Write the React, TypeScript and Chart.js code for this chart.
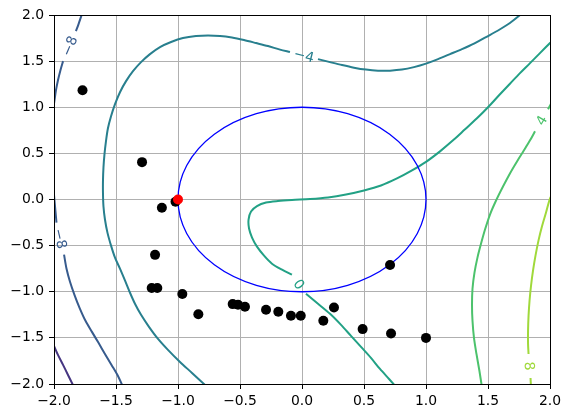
import React, { useEffect, useRef } from 'react';
import { Chart, registerables } from 'chart.js';

Chart.register(...registerables);

type Pt = [number, number];

// axis ticks
const xTicks = [-2, -1.5, -1, -0.5, 0, 0.5, 1, 1.5, 2];
const yTicks = [-2, -1.5, -1, -0.5, 0, 0.5, 1, 1.5, 2];

// contour pieces, split where the inline level label sits
const levelM12: Pt[][] = [
  [[-2.016, -1.533], [-2.0, -1.587], [-1.968, -1.685], [-1.927, -1.793], [-1.887, -1.902], [-1.847, -2.011], [-1.831, -2.054]],
];
const levelM8Upper: Pt[][] = [
  [[-1.748, 2.109], [-1.777, 2.0], [-1.802, 1.902], [-1.823, 1.826]],
  [[-1.927, 1.5], [-1.948, 1.402], [-1.968, 1.293], [-1.984, 1.185], [-1.996, 1.076], [-2.008, 0.967]],
];
const levelM8Lower: Pt[][] = [
  [[-2.004, 0.098], [-1.996, -0.011], [-1.988, -0.13], [-1.98, -0.25]],
  [[-1.919, -0.598], [-1.899, -0.75], [-1.871, -0.891], [-1.835, -1.033], [-1.794, -1.174], [-1.746, -1.315],
   [-1.694, -1.435], [-1.641, -1.554], [-1.589, -1.674], [-1.536, -1.793], [-1.484, -1.913], [-1.44, -2.043]],
];
const levelM4: Pt[][] = [
  [[-0.782, -2.011], [-0.887, -1.88], [-0.984, -1.761], [-1.081, -1.63], [-1.161, -1.511], [-1.234, -1.38],
   [-1.298, -1.25], [-1.347, -1.13], [-1.387, -1.011], [-1.427, -0.88], [-1.468, -0.75], [-1.508, -0.63],
   [-1.54, -0.5], [-1.569, -0.359], [-1.589, -0.217], [-1.601, -0.076], [-1.605, 0.065], [-1.605, 0.207],
   [-1.601, 0.348], [-1.593, 0.489], [-1.581, 0.63], [-1.565, 0.772], [-1.54, 0.902], [-1.508, 1.033],
   [-1.468, 1.163], [-1.419, 1.283], [-1.363, 1.391], [-1.298, 1.489], [-1.226, 1.576], [-1.145, 1.652],
   [-1.056, 1.707], [-0.96, 1.75], [-0.855, 1.772], [-0.758, 1.777], [-0.661, 1.772], [-0.565, 1.755],
   [-0.468, 1.728], [-0.371, 1.696], [-0.274, 1.663], [-0.177, 1.625], [-0.097, 1.598]],
  [[0.129, 1.522], [0.226, 1.489], [0.323, 1.457], [0.419, 1.429], [0.516, 1.408], [0.613, 1.397],
   [0.71, 1.397], [0.806, 1.408], [0.903, 1.435], [1.0, 1.473], [1.097, 1.522], [1.194, 1.576],
   [1.29, 1.63], [1.387, 1.69], [1.484, 1.761], [1.581, 1.832], [1.677, 1.913], [1.758, 2.0], [1.823, 2.076]],
];
const level0: Pt[][] = [
  [[2.048, 1.761], [2.0, 1.696], [1.919, 1.587], [1.839, 1.478], [1.758, 1.37], [1.677, 1.255], [1.589, 1.13],
   [1.5, 1.0], [1.411, 0.88], [1.315, 0.761], [1.218, 0.641], [1.113, 0.522], [1.0, 0.408], [0.887, 0.315],
   [0.766, 0.228], [0.637, 0.152], [0.5, 0.098], [0.355, 0.054], [0.21, 0.022], [0.065, 0.005],
   [-0.081, -0.005], [-0.194, -0.016], [-0.29, -0.033], [-0.363, -0.071], [-0.411, -0.13], [-0.431, -0.217],
   [-0.427, -0.315], [-0.403, -0.413], [-0.363, -0.511], [-0.306, -0.609], [-0.242, -0.696], [-0.161, -0.761],
   [-0.081, -0.815]],
  [[0.032, -1.022], [0.129, -1.13], [0.226, -1.239], [0.315, -1.359], [0.395, -1.478], [0.476, -1.598],
   [0.556, -1.717], [0.629, -1.837], [0.702, -1.946], [0.766, -2.043]],
];
const levelP4: Pt[][] = [
  [[2.024, 1.076], [1.984, 0.978]],
  [[1.879, 0.739], [1.839, 0.641], [1.79, 0.533], [1.734, 0.413], [1.677, 0.283], [1.621, 0.141],
   [1.565, -0.011], [1.516, -0.163], [1.476, -0.326], [1.444, -0.478], [1.415, -0.63], [1.391, -0.793],
   [1.375, -0.967], [1.371, -1.141], [1.375, -1.315], [1.387, -1.5], [1.407, -1.674], [1.431, -1.859],
   [1.452, -2.043]],
];
const levelP8: Pt[][] = [
  [[2.024, 0.065], [2.0, 0.011], [1.968, -0.141], [1.935, -0.293], [1.907, -0.446], [1.883, -0.609],
   [1.863, -0.772], [1.847, -0.935], [1.835, -1.098], [1.827, -1.261], [1.823, -1.424], [1.823, -1.565],
   [1.827, -1.674]],
  [[1.843, -1.935], [1.847, -2.043]],
];

const contourPieces = [levelM12, levelM8Upper, levelM8Lower, levelM4, level0, levelP4, levelP8];
const contourLabels = ['−12', '−8', '−8', '−4', '0', '4', '8'];
const contourColors = ['#453581', '#375b8d', '#375b8d', '#287f8e', '#22a185', '#4cc26c', '#a0d93b'];

// constraint circle
const circleCenterX = 0;
const circleCenterY = 0;
const circleRadius = 1;

// iterates
const iterX = [-1.77, -1.29, -1.13, -1.02, -1.185, -1.212, -1.167, -0.965, -0.836, -0.559, -0.516, -0.46,
  -0.29, -0.191, -0.089, -0.01, 0.172, 0.258, 0.489, 0.718, 1.0, 0.71];
const iterY = [1.185, 0.405, -0.09, -0.025, -0.6, -0.96, -0.96, -1.025, -1.243, -1.134, -1.14, -1.163,
  -1.196, -1.217, -1.26, -1.26, -1.315, -1.17, -1.405, -1.453, -1.5, -0.71];

// start point
const startX = [-1.0];
const startY = [0.0];

const fmt = (v: number) => {
  const s = Number(v).toFixed(1);
  return s.startsWith('-') ? '−' + s.slice(1) : s;
};

export default function App() {
  const ref = useRef<HTMLCanvasElement>(null);

  useEffect(() => {
    document.body.style.margin = '0';
    const canvas = ref.current!;

    const datasets: any[] = [];
    datasets.push({
      data: startX.map((x, i) => ({ x, y: startY[i] })),
      pointRadius: 5,
      pointBackgroundColor: '#ff0000',
      pointBorderWidth: 0,
      showLine: false,
    });
    datasets.push({
      data: iterX.map((x, i) => ({ x, y: iterY[i] })),
      pointRadius: 5,
      pointBackgroundColor: '#000000',
      pointBorderWidth: 0,
      showLine: false,
    });
    const blackIndex = 1;
    contourPieces.forEach((segs, k) => {
      segs.forEach((seg) => {
        datasets.push({
          data: seg.map(([x, y]) => ({ x, y })),
          showLine: true,
          pointRadius: 0,
          borderColor: contourColors[k],
          borderWidth: 2,
          tension: 0.3,
          fill: false,
          clip: 0,
        });
      });
    });

    const circlePlugin = {
      id: 'circle',
      beforeDatasetDraw(chart: any, args: any) {
        if (args.index !== blackIndex) return;
        const xs = chart.scales.x, ys = chart.scales.y;
        const ctx = chart.ctx;
        const ca = chart.chartArea;
        const cx = xs.getPixelForValue(circleCenterX);
        const cy = ys.getPixelForValue(circleCenterY);
        const rx = Math.abs(xs.getPixelForValue(circleCenterX + circleRadius) - cx);
        const ry = Math.abs(ys.getPixelForValue(circleCenterY + circleRadius) - cy);
        ctx.save();
        ctx.beginPath();
        ctx.rect(ca.left, ca.top, ca.right - ca.left, ca.bottom - ca.top);
        ctx.clip();
        ctx.beginPath();
        ctx.ellipse(cx, cy, rx, ry, 0, 0, Math.PI * 2);
        ctx.strokeStyle = '#0000ff';
        ctx.lineWidth = 1.3;
        ctx.stroke();
        ctx.restore();
      },
    };

    const labelPlugin = {
      id: 'clabels',
      afterDatasetsDraw(chart: any) {
        const xs = chart.scales.x, ys = chart.scales.y;
        const ctx = chart.ctx;
        ctx.save();
        ctx.font = '13.9px "DejaVu Sans"';
        ctx.textAlign = 'center';
        ctx.textBaseline = 'middle';
        contourPieces.forEach((segs, k) => {
          if (segs.length < 2) return;
          const a = segs[0][segs[0].length - 1];
          const b = segs[1][0];
          const ax = xs.getPixelForValue(a[0]), ay = ys.getPixelForValue(a[1]);
          const bx = xs.getPixelForValue(b[0]), by = ys.getPixelForValue(b[1]);
          let ang = Math.atan2(by - ay, bx - ax);
          if (ang > Math.PI / 2) ang -= Math.PI;
          if (ang < -Math.PI / 2) ang += Math.PI;
          ctx.save();
          ctx.translate((ax + bx) / 2, (ay + by) / 2);
          ctx.rotate(ang);
          ctx.fillStyle = contourColors[k];
          ctx.fillText(contourLabels[k], 0, 1);
          ctx.restore();
        });
        ctx.restore();
      },
    };

    const framePlugin = {
      id: 'frame',
      afterDraw(chart: any) {
        const ca = chart.chartArea;
        const ctx = chart.ctx;
        ctx.save();
        ctx.strokeStyle = '#000';
        ctx.lineWidth = 1;
        ctx.strokeRect(ca.left + 0.5, ca.top + 0.5, ca.right - ca.left, ca.bottom - ca.top);
        ctx.restore();
      },
    };

    const tickFont = { family: 'DejaVu Sans', size: 13.9 };
    const gridOpts = { color: '#b0b0b0', lineWidth: 1, tickColor: '#000', tickLength: 5, tickWidth: 1, drawTicks: true };

    const chart = new Chart(canvas, {
      type: 'scatter',
      data: { datasets },
      plugins: [circlePlugin, labelPlugin, framePlugin],
      options: {
        animation: false,
        responsive: false,
        devicePixelRatio: 1,
        events: [],
        layout: { padding: { top: 15, right: 20, left: 0, bottom: 0 } },
        plugins: { legend: { display: false }, tooltip: { enabled: false } },
        scales: {
          x: {
            type: 'linear',
            min: -2,
            max: 2,
            z: 1,
            afterBuildTicks: (s: any) => { s.ticks = xTicks.map((v) => ({ value: v })); },
            afterFit: (s: any) => { s.height = 34; },
            grid: gridOpts,
            border: { display: false },
            ticks: { color: '#000', font: tickFont, padding: 4, maxRotation: 0, autoSkip: false, callback: (v: any) => fmt(v) },
          },
          y: {
            type: 'linear',
            min: -2,
            max: 2,
            z: 1,
            afterBuildTicks: (s: any) => { s.ticks = yTicks.map((v) => ({ value: v })); },
            afterFit: (s: any) => { s.width = 54; },
            grid: gridOpts,
            border: { display: false },
            ticks: { color: '#000', font: tickFont, padding: 5, autoSkip: false, callback: (v: any) => fmt(v) },
          },
        },
      } as any,
    });
    return () => chart.destroy();
  }, []);

  return (
    <div style={{ width: 570, height: 418, background: '#fff' }}>
      <canvas ref={ref} width={570} height={418} style={{ display: 'block', width: 570, height: 418 }} />
    </div>
  );
}
